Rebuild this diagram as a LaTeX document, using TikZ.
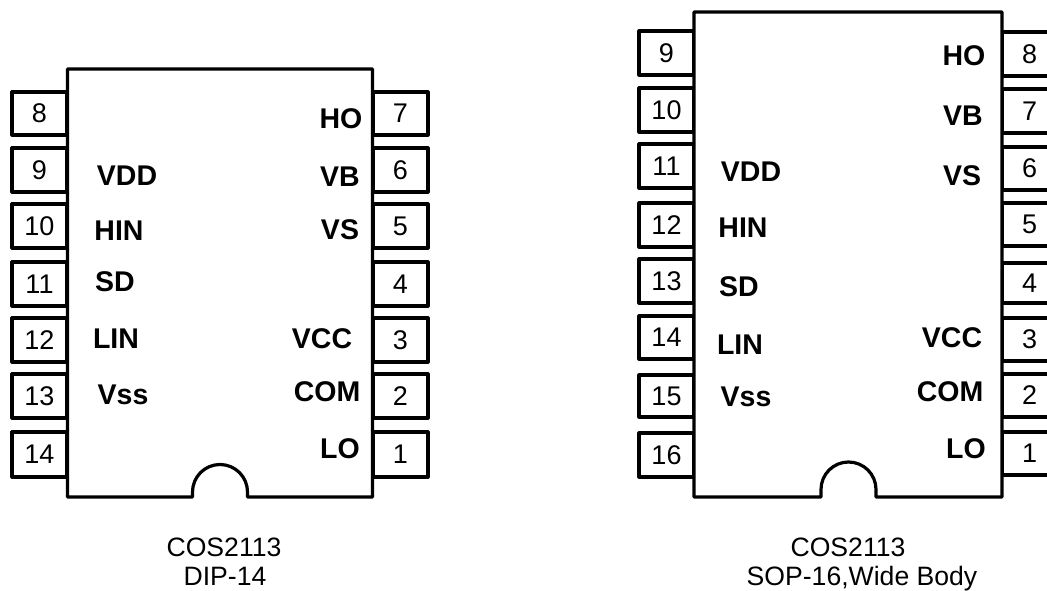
\documentclass[tikz,border=0pt]{standalone}
\usepackage{fontspec}
\setmainfont{Liberation Sans}
\tikzset{
  pin/.style={draw, line width=3.2pt, line join=round, minimum width=55pt, inner sep=0pt, font=\fontsize{27}{29}\selectfont},
  chipbody/.style={line width=3.2pt, line join=round},
  signal/.style={inner sep=0pt, text depth=0pt, font=\fontsize{28.5}{30}\selectfont\bfseries},
  caption/.style={inner sep=0pt, text depth=0pt, font=\fontsize{26.6}{30}\selectfont}
}

\begin{document}
\begin{tikzpicture}[x=1pt,y=-1pt]
\useasboundingbox (0,0) rectangle (1047,591);
\clip (0,0) rectangle (1047,591);

%%%%%%%%%%%%%%%%%%%%%%%%%%%%%%%%%%%%%%%%%%%%%%%%	DIP-14, PATAS
\node[pin, minimum height=43pt] (dipA) at (39.5,113.5) {8};
\node[pin, minimum height=44pt] (dipB) at (39.5,170) {9};
\node[pin, minimum height=44pt] (dipC) at (39.5,226) {10};
\node[pin, minimum height=44pt] (dipD) at (39.5,284) {11};
\node[pin, minimum height=44pt] (dipE) at (39.5,340) {12};
\node[pin, minimum height=44pt] (dipF) at (39.5,396) {13};
\node[pin, minimum height=45pt] (dipG) at (39.5,454.5) {14};

\node[pin, minimum height=43pt] (dipH) at (400.5,113.5) {7};
\node[pin, minimum height=44pt] (dipI) at (400.5,170) {6};
\node[pin, minimum height=44pt] (dipJ) at (400.5,226) {5};
\node[pin, minimum height=44pt] (dipK) at (400.5,284) {4};
\node[pin, minimum height=44pt] (dipL) at (400.5,340) {3};
\node[pin, minimum height=44pt] (dipM) at (400.5,396) {2};
\node[pin, minimum height=45pt] (dipN) at (400.5,454.5) {1};

%%%%%%%%%%%%%%%%%%%%%%%%%%%%%%%%%%%%%%%%%%%%%%%%	DIP-14, CUERPO
\draw[chipbody, fill=white] (67.5,69) -- (372.5,69) -- (372.5,497) -- (247.5,497) -- (247.5,492)
  arc(360:180:27.5) -- (192.5,497) -- (67.5,497) -- cycle;

\node[signal] (dipVDD) at (127,176) {VDD};
\node[signal] (dipHIN) at (119,231) {HIN};
\node[signal] (dipSD) at (115,282) {SD};
\node[signal] (dipLIN) at (116,339) {LIN};
\node[signal] (dipVss) at (123,395) {Vss};
\node[signal] (dipHO) at (341,119) {HO};
\node[signal] (dipVB) at (340,177) {VB};
\node[signal] (dipVS) at (340,230) {VS};
\node[signal] (dipVCC) at (322,339) {VCC};
\node[signal] (dipCOM) at (327,392) {COM};
\node[signal] (dipLO) at (340,449) {LO};

\node[caption] (dipName) at (224,547) {COS2113};
\node[caption] (dipCase) at (225,576.5) {DIP-14};

%%%%%%%%%%%%%%%%%%%%%%%%%%%%%%%%%%%%%%%%%%%%%%%%	SOP-16, PATAS
\node[pin, minimum height=44pt] (sopA) at (666.5,53) {9};
\node[pin, minimum height=44pt] (sopB) at (666.5,110) {10};
\node[pin, minimum height=44pt] (sopC) at (666.5,166) {11};
\node[pin, minimum height=44pt] (sopD) at (666.5,225) {12};
\node[pin, minimum height=44pt] (sopE) at (666.5,281) {13};
\node[pin, minimum height=43pt] (sopF) at (666.5,337.5) {14};
\node[pin, minimum height=42pt] (sopG) at (666.5,396) {15};
\node[pin, minimum height=44pt] (sopH) at (666.5,455) {16};

\node[pin, minimum height=44pt] (sopI) at (1029.5,54) {8};
\node[pin, minimum height=44pt] (sopJ) at (1029.5,111) {7};
\node[pin, minimum height=43pt] (sopK) at (1029.5,168.5) {6};
\node[pin, minimum height=43pt] (sopL) at (1029.5,224.5) {5};
\node[pin, minimum height=40pt] (sopM) at (1029.5,283) {4};
\node[pin, minimum height=43pt] (sopN) at (1029.5,339.5) {3};
\node[pin, minimum height=43pt] (sopO) at (1029.5,395.5) {2};
\node[pin, minimum height=43pt] (sopP) at (1029.5,453.5) {1};

%%%%%%%%%%%%%%%%%%%%%%%%%%%%%%%%%%%%%%%%%%%%%%%%	SOP-16, CUERPO
\draw[chipbody, fill=white] (694,12) -- (1002,12) -- (1002,497) -- (876,497) -- (876,489.5)
  arc(360:180:27.5) -- (821,497) -- (694,497) -- cycle;

\node[signal] (sopVDD) at (751,172) {VDD};
\node[signal] (sopHIN) at (743,228) {HIN};
\node[signal] (sopSD) at (739,287) {SD};
\node[signal] (sopLIN) at (740,345) {LIN};
\node[signal] (sopVss) at (746,397) {Vss};
\node[signal] (sopHO) at (964,56) {HO};
\node[signal] (sopVB) at (963,116) {VB};
\node[signal] (sopVS) at (962,176) {VS};
\node[signal] (sopVCC) at (952,338) {VCC};
\node[signal] (sopCOM) at (950,392) {COM};
\node[signal] (sopLO) at (966,449) {LO};

\node[caption] (sopName) at (848,547) {COS2113};
\node[caption] (sopCase) at (862,575.5) {SOP-16,Wide Body};

\end{tikzpicture}
\end{document}
